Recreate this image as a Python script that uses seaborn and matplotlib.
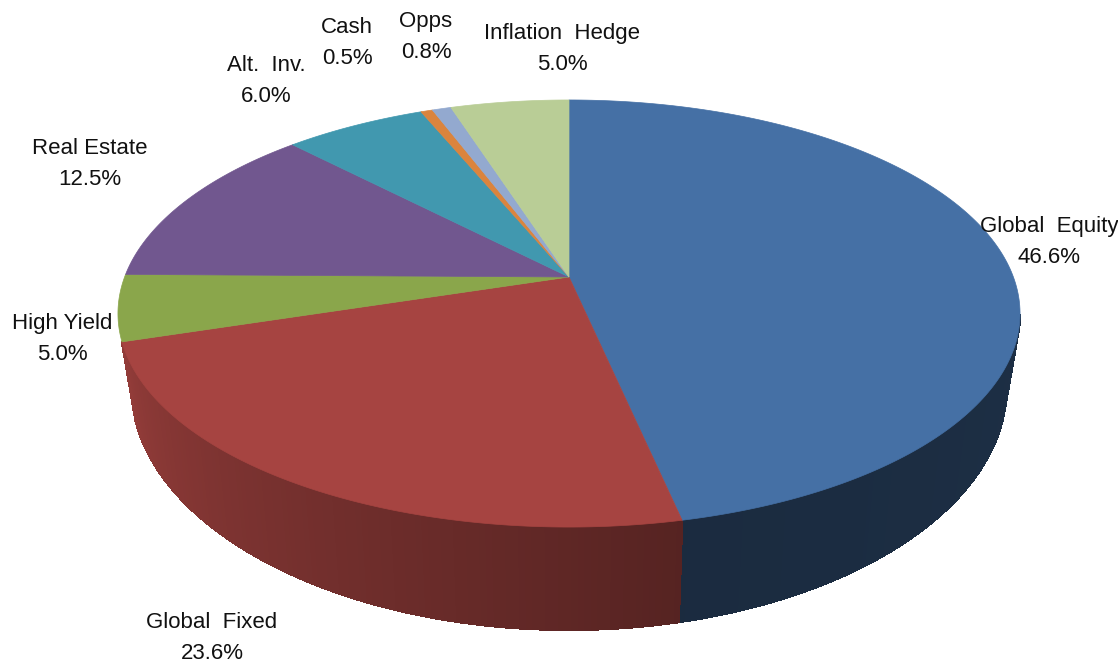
import numpy as np
import seaborn as sns
import matplotlib
matplotlib.use("Agg")
import matplotlib.pyplot as plt
import matplotlib.colors as mc

categories = ["Global  Equity", "Global  Fixed", "High Yield", "Real Estate",
              "Alt.  Inv.", "Cash", "Opps", "Inflation  Hedge"]
shares = [46.6, 23.6, 5.0, 12.5, 6.0, 0.5, 0.8, 5.0]
colors = ["#4570A5", "#A64441", "#8AA64B", "#71578F",
          "#4198AF", "#DB843D", "#93A9CF", "#B9CD96"]
label_x = [1049, 212, 62, 90, 266, 347, 426, 562]
label_y = [224, 620, 321, 146, 63, 25, 19, 31]

sns.set_theme(style="white")
plt.rcParams["font.family"] = ["Liberation Sans", "DejaVu Sans"]

# pie geometry in pixels, disk seen in perspective
cx, vy = 569, 277
R, S, k = 444.4, 207.3, 0.171
D = 70


def top_pt(t):
    x, y = np.sin(t), np.cos(t)
    w = 1 + k * y
    return cx + R * x / w, vy - S * y / w


def bottom_pt(t):
    x, y = np.sin(t), np.cos(t)
    w = 1 + k * y
    return cx + 0.97 * R * x / w, vy - S * y / w + D / w ** 2.05


fig = plt.figure(figsize=(11.18, 6.67), dpi=100)
ax = fig.add_axes([0, 0, 1, 1])
ax.set_xlim(0, 1118)
ax.set_ylim(667, 0)
ax.axis("off")

edges = np.radians(np.cumsum([0] + shares) * 3.6)

# side wall, only the part facing us (blue and red slices)
for i in [0, 1]:
    a = max(edges[i], np.radians(100))
    b = min(edges[i + 1], np.radians(256))
    ts = np.linspace(a, b, 120)
    base = np.array(mc.to_rgb(colors[i]))
    for t0, t1 in zip(ts[:-1], ts[1:]):
        xa, ya = top_pt(t0)
        xb, yb = top_pt(t1)
        xc, yc = bottom_pt(t1)
        xd, yd = bottom_pt(t0)
        if i == 0:
            shade = 0.42 - 0.03 * (t0 - a)
        else:
            shade = 0.52 + 0.36 * (t0 - a) / (b - a)
        c = base * shade
        ax.fill([xa, xb, xc, xd], [ya, yb, yc, yd], color=c, lw=1, antialiased=False, zorder=1)
        # smooth outer edge, the strips are not antialiased
        ax.plot([xd, xc], [yd, yc], color=c, lw=1, zorder=1)

# top face
for i, col in enumerate(colors):
    ts = np.linspace(edges[i], edges[i + 1], 200)
    px, py = top_pt(ts)
    ax.fill(np.r_[cx, px], np.r_[vy, py], color=col, lw=0.5, zorder=2)

for name, val, lx, ly in zip(categories, shares, label_x, label_y):
    ax.text(lx, ly + 18, name + "\n" + f"{val:.1f}%", ha="center", va="center",
            fontsize=16, color="#111111", linespacing=1.6)

fig.savefig("out.png", dpi=100)
